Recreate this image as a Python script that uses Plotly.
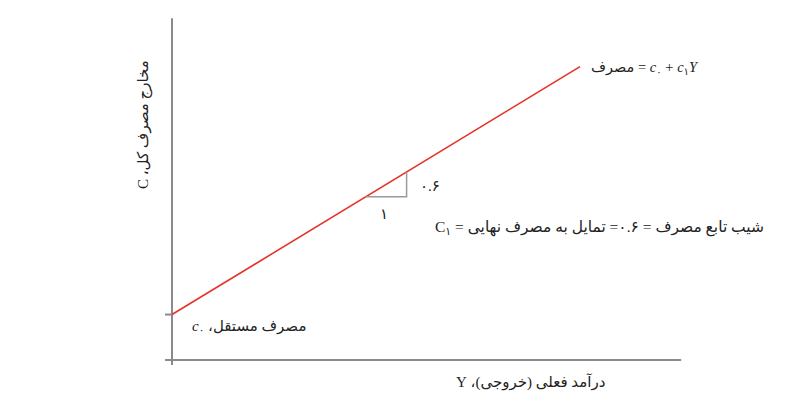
import plotly.graph_objects as go

# consumption function C = c0 + c1*Y, c1 = 0.6
income = [0, 100]
consumption = [11, 71]

# slope triangle (run 10, rise 6)
tri_x = [47.5, 57.5, 57.5]
tri_y = [39.5, 39.5, 45.5]

c0 = 11

RLE = "\u202b"
PDF = "\u202c"

# page body has an 8px margin, so the figure is a bit smaller than the window
OFF = 8
W, H = 810 - 2 * OFF, 406 - 2 * OFF
PX_X = 4.08   # pixels per income unit
PX_Y = 4.133  # pixels per consumption unit
ORIG_X, ORIG_Y = 172 - OFF, 360 - OFF

x_range = [-ORIG_X / PX_X, (W - ORIG_X) / PX_X]
y_range = [(ORIG_Y - H) / PX_Y, ORIG_Y / PX_Y]

fig = go.Figure()

fig.add_trace(go.Scatter(
    x=income, y=consumption, mode="lines",
    line=dict(color="#e5322a", width=1.6),
    hoverinfo="skip", showlegend=False))

fig.add_trace(go.Scatter(
    x=tri_x, y=tri_y, mode="lines",
    line=dict(color="#9a9a9a", width=1.5),
    hoverinfo="skip", showlegend=False))

axis_col = "#8a8a8a"
fig.add_shape(type="line", x0=0, x1=0, y0=-1.2, y1=82.7,
              line=dict(color=axis_col, width=2), layer="below")
fig.add_shape(type="line", x0=-1.7, x1=124.8, y0=0, y1=0,
              line=dict(color=axis_col, width=2), layer="below")
fig.add_shape(type="line", x0=-1.7, x1=0, y0=c0, y1=c0,
              line=dict(color=axis_col, width=2), layer="below")

fnt = dict(family="Liberation Serif, DejaVu Sans", size=15, color="#222222")


def px(x):
    return (x - OFF) / W


def py(y):
    return 1 - (y - OFF) / H


def note(text, x, y, xanchor="center", angle=0, size=15):
    fig.add_annotation(text=text, x=px(x), y=py(y), xref="paper", yref="paper",
                       xanchor=xanchor, yanchor="middle", showarrow=False,
                       textangle=angle, font=dict(fnt, size=size))


note("مصرف = <i>c</i><sub>۰</sub> + <i>c</i><sub>۱</sub><i>Y</i>", 589, 68, "left", size=14.5)
note("۰.۶", 418, 186, "left")
note("۱", 384, 214)
note(RLE + "شیب تابع مصرف = ۰.۶= تمایل به مصرف نهایی = C<sub>۱</sub>" + PDF,
     766, 227, "right", size=15.5)
note(RLE + "مصرف مستقل، <i>c</i><sub>۰</sub>" + PDF, 190, 327, "left")
note(RLE + "درآمد فعلی (خروجی)، Y" + PDF, 530, 382)
note(RLE + "مخارج مصرف کل، C" + PDF, 144, 125, angle=-90)

fig.update_layout(
    width=W, height=H,
    margin=dict(l=0, r=0, t=0, b=0),
    paper_bgcolor="white", plot_bgcolor="white",
    xaxis=dict(range=x_range, visible=False, fixedrange=True),
    yaxis=dict(range=y_range, visible=False, fixedrange=True),
)

fig.write_html("out.html")
